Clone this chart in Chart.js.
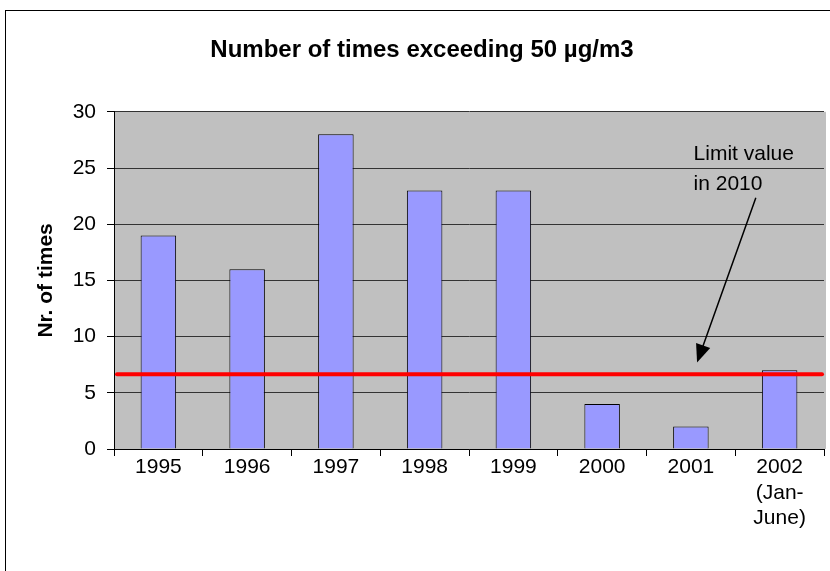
<!DOCTYPE html>
<html>
<head>
<meta charset="utf-8">
<script src="https://cdn.jsdelivr.net/npm/chart.js@4.4.1/dist/chart.umd.min.js"></script>
<style>
  body { margin: 0; background: #fff; }
  #wrap { width: 830px; height: 571px; }
</style>
</head>
<body>
<div id="wrap"><canvas id="myChart" width="830" height="571"></canvas></div>
<script>
const years = [
  "1995", "1996", "1997", "1998", "1999", "2000", "2001",
  ["2002", "(Jan-", "June)"],
];
const timesExceeded = [19, 16, 28, 23, 23, 4, 2, 7];
const yTicks = [0, 5, 10, 15, 20, 25, 30];
const limitValue = 6.65;
const limitText = ["Limit value", "in 2010"];
// arrow, in data units: [category index, value]
const arrowFrom = [6.73, 22.3];
const arrowTo = [6.07, 7.7];
const textAt = [6.03, 26.2];

const fontFam = "'Liberation Sans', Arial, sans-serif";

// gray plot area + outer frame
const backdrop = {
  id: "backdrop",
  beforeDraw: function (chart) {
    const ctx = chart.ctx;
    const a = chart.chartArea;
    ctx.save();
    ctx.fillStyle = "#fff";
    ctx.fillRect(0, 0, chart.width, chart.height);
    ctx.strokeStyle = "#000";
    ctx.lineWidth = 1;
    ctx.strokeRect(5.5, 10.5, chart.width + 10, chart.height + 10);
    ctx.fillStyle = "#C0C0C0";
    ctx.fillRect(a.left, a.top, a.right - a.left + 2, a.bottom - a.top);
    ctx.restore();
  },
};

// red limit line + the arrow note
const limitLine = {
  id: "limitLine",
  afterDatasetsDraw: function (chart) {
    const ctx = chart.ctx;
    const a = chart.chartArea;
    const x = chart.scales.x;
    const y = chart.scales.y;
    const ly = y.getPixelForValue(limitValue);
    ctx.save();
    ctx.strokeStyle = "#FF0000";
    ctx.lineWidth = 4;
    ctx.lineCap = "round";
    ctx.beginPath();
    ctx.moveTo(a.left + 3, ly);
    ctx.lineTo(a.right - 2, ly);
    ctx.stroke();

    // text
    ctx.fillStyle = "#000";
    ctx.font = "21px " + fontFam;
    ctx.textAlign = "left";
    ctx.textBaseline = "middle";
    const tx = x.getPixelForValue(textAt[0]);
    const ty = y.getPixelForValue(textAt[1]);
    limitText.forEach(function (t, i) {
      ctx.fillText(t, tx, ty + i * 30);
    });

    // arrow
    const x1 = x.getPixelForValue(arrowFrom[0]);
    const y1 = y.getPixelForValue(arrowFrom[1]);
    const x2 = x.getPixelForValue(arrowTo[0]);
    const y2 = y.getPixelForValue(arrowTo[1]);
    const ang = Math.atan2(y2 - y1, x2 - x1);
    const hl = 18, hw = 7.5;
    ctx.strokeStyle = "#000";
    ctx.lineWidth = 1.5;
    ctx.beginPath();
    ctx.moveTo(x1, y1);
    ctx.lineTo(x2 - Math.cos(ang) * hl * 0.8, y2 - Math.sin(ang) * hl * 0.8);
    ctx.stroke();
    ctx.beginPath();
    ctx.moveTo(x2, y2);
    ctx.lineTo(x2 - hl * Math.cos(ang) + hw * Math.sin(ang), y2 - hl * Math.sin(ang) - hw * Math.cos(ang));
    ctx.lineTo(x2 - hl * Math.cos(ang) - hw * Math.sin(ang), y2 - hl * Math.sin(ang) + hw * Math.cos(ang));
    ctx.closePath();
    ctx.fill();
    ctx.restore();
  },
};

const ctx = document.getElementById("myChart").getContext("2d");

const myChart = new Chart(ctx, {
  type: "bar",
  data: {
    labels: years,
    datasets: [
      {
        label: "Nr. of times",
        data: timesExceeded,
        backgroundColor: "#9999FF",
        borderColor: "#000",
        borderWidth: 1,
        barPercentage: 0.4,
        categoryPercentage: 1,
      },
    ],
  },
  options: {
    responsive: false,
    animation: false,
    devicePixelRatio: 1,
    layout: { padding: { left: 20, right: 6, top: 0, bottom: 0 } },
    plugins: {
      legend: { display: false },
      tooltip: { enabled: false },
      title: {
        display: true,
        text: "Number of times exceeding 50 µg/m3",
        color: "#000",
        font: { family: fontFam, size: 24, weight: "bold", lineHeight: 1.2 },
        padding: { top: 36, bottom: 47 },
      },
    },
    scales: {
      x: {
        grid: {
          drawOnChartArea: false,
          drawTicks: true,
          tickLength: 7,
          tickColor: "#000",
          offset: true,
        },
        border: { color: "#000", width: 1 },
        ticks: {
          color: "#000",
          font: { family: fontFam, size: 21, lineHeight: 1.2 },
          padding: -1,
          maxRotation: 0,
          autoSkip: false,
        },
        afterFit: function (scale) {
          scale.height = 122;
        },
      },
      y: {
        min: 0,
        max: 30,
        afterBuildTicks: function (scale) {
          scale.ticks = yTicks.map(function (v) { return { value: v }; });
        },
        grid: {
          color: "#333",
          lineWidth: 1,
          tickLength: 7,
          tickColor: "#000",
        },
        border: { color: "#000", width: 1 },
        ticks: {
          color: "#000",
          font: { family: fontFam, size: 21 },
          padding: 11,
        },
        title: {
          display: true,
          text: "Nr. of times",
          color: "#000",
          font: { family: fontFam, size: 21, weight: "bold", lineHeight: 1.2 },
          padding: { top: 14, bottom: 0 },
        },
        afterFit: function (scale) {
          scale.width = 94;
        },
      },
    },
  },
  plugins: [backdrop, limitLine],
});
</script>
</body>
</html>
